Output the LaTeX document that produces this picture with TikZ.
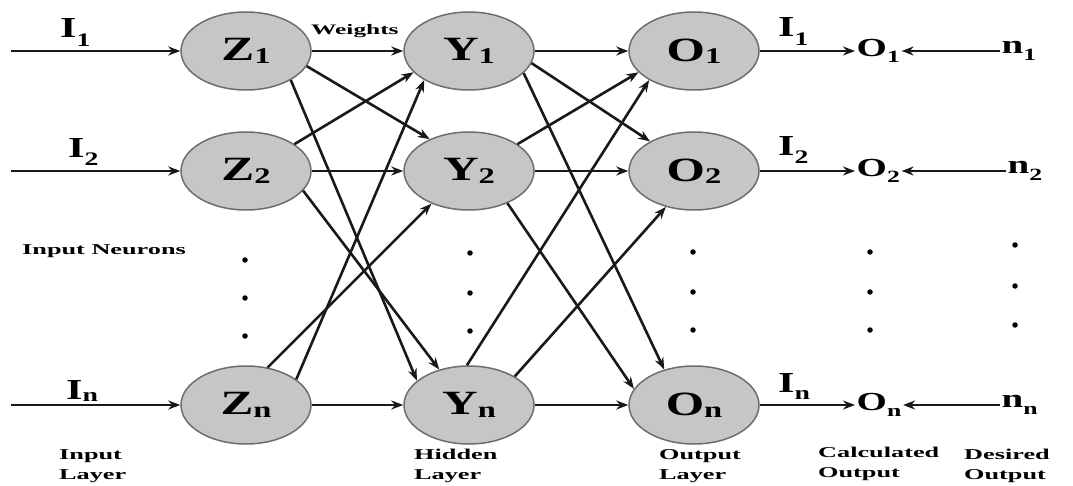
\documentclass[tikz,border=0pt]{standalone}
\usepackage{fontspec}
\setmainfont{Liberation Serif}
\newfontfamily\fbig{Liberation Serif}[FakeStretch=1.45]
\newfontfamily\fout{Liberation Serif}[FakeStretch=1.5]
\newfontfamily\fsmall{Liberation Serif}[FakeStretch=1.75]
\usepackage{graphicx}
\usetikzlibrary{shapes.geometric,arrows.meta}
\newcommand\sbx[2]{\raisebox{#1}{\scalebox{0.66}{#2}}}
\definecolor{nfill}{HTML}{C6C6C6}
\definecolor{nedge}{HTML}{6E6E6E}
\begin{document}
\begin{tikzpicture}[x=1pt,y=-1pt,
  neuron/.style={ellipse, draw=nedge, fill=nfill, line width=1.5pt, minimum width=130pt, minimum height=78pt, inner sep=0pt, font=\fbig\bfseries\fontsize{34}{34}\selectfont},
  conn/.style={-{Stealth[length=12pt,width=9pt]}, line width=2.6pt, black!90},
  lab/.style={font=\fbig\bfseries\fontsize{29}{29}\selectfont, inner sep=0pt, anchor=base west},
  outlab/.style={font=\fout\bfseries\fontsize{26}{26}\selectfont, inner sep=1.5pt, anchor=west},
  small/.style={font=\fsmall\bfseries\fontsize{15}{20}\selectfont, align=left, anchor=north west, inner sep=0pt},
  dotn/.style={circle, fill=black, inner sep=0pt, minimum size=5.5pt}]
\useasboundingbox (0,0) rectangle (1073,486);
% neurons
\node[neuron] (Z1) at (246,51) {Z\sbx{-0.07em}{1}};
\node[neuron] (Z2) at (246,171) {Z\sbx{-0.07em}{2}};
\node[neuron] (Zn) at (246,405) {Z\sbx{-0.07em}{n}};
\node[neuron] (Y1) at (469,51) {Y\sbx{-0.07em}{1}};
\node[neuron] (Y2) at (469,171) {Y\sbx{-0.07em}{2}};
\node[neuron] (Yn) at (469,405) {Y\sbx{-0.07em}{n}};
\node[neuron] (O1) at (694,51) {O\sbx{-0.07em}{1}};
\node[neuron] (O2) at (694,171) {O\sbx{-0.07em}{2}};
\node[neuron] (On) at (694,405) {O\sbx{-0.07em}{n}};
% inputs
\coordinate (a1) at (11,51);
\coordinate (a2) at (11,171);
\coordinate (an) at (11,405);
\draw[conn] (a1) -- (Z1);
\draw[conn] (a2) -- (Z2);
\draw[conn] (an) -- (Zn);
\node[lab] (l1) at (60,38) {I\sbx{-0.3em}{1}};
\node[lab] (l2) at (68,158) {I\sbx{-0.25em}{2}};
\node[lab] (ln) at (66,399) {I\sbx{-0.08em}{n}};
% input -> hidden
\draw[conn] (Z1) -- (Y1);
\draw[conn] (Z1.-14) -- (Y2.141);
\draw[conn] (Z1.-33) -- (Yn.155);
\draw[conn] (Z2.29) -- (Y1.-159);
\draw[conn] (Z2) -- (Y2);
\draw[conn] (Z2.-19) -- (Yn.130);
\draw[conn] (Zn.27) -- (Y1.-147);
\draw[conn] (Zn.60) -- (Y2.-139);
\draw[conn] (Zn) -- (Yn);
% hidden -> output
\draw[conn] (Y1) -- (O1);
\draw[conn] (Y1.-11) -- (O2.146);
\draw[conn] (Y1.-22) -- (On.130);
\draw[conn] (Y2.29) -- (O1.-159);
\draw[conn] (Y2) -- (O2);
\draw[conn] (Y2.-40) -- (On.165);
\draw[conn] (Yn.93) -- (O1.-147);
\draw[conn] (Yn.32) -- (O2.-128);
\draw[conn] (Yn) -- (On);
\node[font=\fsmall\bfseries\fontsize{14.5}{14.5}\selectfont, anchor=west, inner sep=0pt] (w) at (311,31) {Weights};
\node[font=\fsmall\bfseries\fontsize{15}{15}\selectfont, anchor=west, inner sep=0pt] (inn) at (22,251) {Input Neurons};
% outputs
\node[outlab] (c1) at (855,51) {O\sbx{-0.22em}{1}};
\node[outlab] (c2) at (855,171) {O\sbx{-0.22em}{2}};
\node[outlab] (cn) at (855,405) {O\sbx{-0.22em}{n}};
\node[outlab] (n1) at (1000,51) {n\sbx{-0.25em}{1}};
\node[outlab] (n2) at (1006,171) {n\sbx{-0.25em}{2}};
\node[outlab] (nn) at (1000,405) {n\sbx{-0.25em}{n}};
\draw[conn] (O1.east) -- (c1.west);
\draw[conn] (O2.east) -- (c2.west);
\draw[conn] (On.east) -- (cn.west);
\draw[conn] (n1.west) -- (c1.east);
\draw[conn] (n2.west) -- (c2.east);
\draw[conn] (nn.west) -- (cn.east);
\node[lab] (r1) at (778,37) {I\sbx{-0.3em}{1}};
\node[lab] (r2) at (778,156) {I\sbx{-0.25em}{2}};
\node[lab] (rn) at (778,392) {I\sbx{-0.25em}{n}};
% dots
\foreach \x/\ys in {245/{260,298,336}, 470/{253,293,331}, 693/{252,292,330}, 870/{252,292,330}, 1015/{245,286,325}}
  \foreach \y in \ys \node[dotn] at (\x,\y) {};
% bottom labels
\node[small] (b1) at (59,449) {Input\\Layer};
\node[small] (b2) at (414,449) {Hidden\\Layer};
\node[small] (b3) at (659,449) {Output\\Layer};
\node[small] (b4) at (818,447) {Calculated\\Output};
\node[small] (b5) at (964,449) {Desired\\Output};
\end{tikzpicture}
\end{document}
